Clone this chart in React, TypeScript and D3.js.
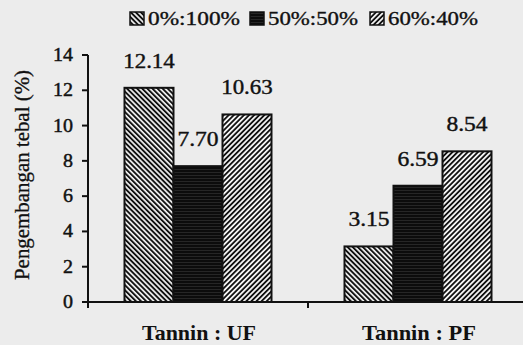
import React from "react";
import * as d3 from "d3";

const categories = ["Tannin : UF", "Tannin : PF"];
const seriesNames = ["0%:100%", "50%:50%", "60%:40%"];
const series0 = [12.14, 3.15];
const series1 = [7.7, 6.59];
const series2 = [10.63, 8.54];
const valueLabels = [["12.14", "3.15"], ["7.70", "6.59"], ["10.63", "8.54"]];
const yTicks = [0, 2, 4, 6, 8, 10, 12, 14];

const W = 523;
const H = 345;
const FONT = "Liberation Serif";
const INK = "#111";

export default function App() {
  const seriesValues = [series0, series1, series2];
  const y = d3.scaleLinear().domain([0, 14]).range([302, 55]);
  const x0 = d3.scaleBand<string>().domain(categories).range([88, 528]).padding(0);
  const x1 = d3
    .scaleBand<string>()
    .domain(seriesNames)
    .range([0, x0.bandwidth()])
    .paddingInner(0)
    .paddingOuter(0.745);
  const fills = ["url(#pBack)", "url(#pDark)", "url(#pFwd)"];
  const legendX = [130, 250, 370];
  const legendTextLen = [92, 90, 90];
  const baseY = y(0);
  const tStyle = { fontFamily: FONT };

  return (
    <svg
      width={W}
      height={H}
      style={{ position: "absolute", left: 0, top: 0, background: "#ececec", fontFamily: FONT }}
    >
      <defs>
        <pattern id="pBack" patternUnits="userSpaceOnUse" width={3.6} height={3.6} patternTransform="rotate(-45)">
          <rect width={3.6} height={3.6} fill="#f2f2f2" />
          <rect width={1.9} height={3.6} fill={INK} />
        </pattern>
        <pattern id="pFwd" patternUnits="userSpaceOnUse" width={3.6} height={3.6} patternTransform="rotate(45)">
          <rect width={3.6} height={3.6} fill="#f2f2f2" />
          <rect width={1.8} height={3.6} fill={INK} />
        </pattern>
        <pattern id="pDark" patternUnits="userSpaceOnUse" width={6} height={3}>
          <rect width={6} height={3} fill="#0c0c0c" />
          <rect y={1} width={6} height={0.8} fill="#2c2c2c" />
        </pattern>
      </defs>
      <rect width={W} height={H} fill="#ececec" />

      {/* Legend */}
      {seriesNames.map((s, i) => (
        <g key={s}>
          <rect x={legendX[i]} y={12} width={14} height={13} fill={fills[i]} stroke={INK} strokeWidth={1.5} />
          <text
            x={legendX[i] + 18}
            y={25}
            fontSize={19}
            fill={INK}
            stroke={INK}
            strokeWidth={0.35}
            style={tStyle}
            textLength={legendTextLen[i]}
            lengthAdjust="spacingAndGlyphs"
          >
            {s}
          </text>
        </g>
      ))}

      {/* Bars */}
      {categories.map((c, ci) => (
        <g key={c} transform={`translate(${x0(c)},0)`}>
          {seriesNames.map((s, si) => {
            const v = seriesValues[si][ci];
            const bx = x1(s)!;
            const bw = x1.bandwidth();
            return (
              <g key={s}>
                <rect
                  x={bx}
                  y={y(v)}
                  width={bw}
                  height={baseY - y(v)}
                  fill={fills[si]}
                  stroke={INK}
                  strokeWidth={2}
                />
                <text
                  x={bx + bw / 2}
                  y={y(v) - 20}
                  textAnchor="middle"
                  fontSize={20}
                  fill={INK}
                  stroke={INK}
                  strokeWidth={0.4}
                  style={tStyle}
                  textLength={valueLabels[si][ci].length * 10.3}
                  lengthAdjust="spacingAndGlyphs"
                >
                  {valueLabels[si][ci]}
                </text>
              </g>
            );
          })}
        </g>
      ))}

      {/* Y axis */}
      <line x1={88} x2={88} y1={y(14)} y2={baseY + 6} stroke={INK} strokeWidth={2} />
      {yTicks.map((t) => (
        <g key={t}>
          <line x1={82} x2={88} y1={y(t)} y2={y(t)} stroke={INK} strokeWidth={2} />
          <text
            x={73}
            y={y(t) + 6}
            textAnchor="end"
            fontSize={19}
            fill={INK}
            stroke={INK}
            strokeWidth={0.45}
            style={tStyle}
            textLength={String(t).length * 10}
            lengthAdjust="spacingAndGlyphs"
          >
            {t}
          </text>
        </g>
      ))}

      {/* X axis */}
      <line x1={88} x2={528} y1={baseY} y2={baseY} stroke={INK} strokeWidth={2} />
      {categories.map((c) => (
        <line key={c} x1={x0(c)! + x0.bandwidth()} x2={x0(c)! + x0.bandwidth()} y1={baseY} y2={baseY + 6} stroke={INK} strokeWidth={2} />
      ))}
      {categories.map((c) => (
        <text
          key={c}
          x={x0(c)! + x0.bandwidth() / 2 + 1}
          y={340}
          textAnchor="middle"
          fontSize={21}
          fontWeight="bold"
          fill={INK}
          style={tStyle}
          textLength={114}
          lengthAdjust="spacingAndGlyphs"
        >
          {c}
        </text>
      ))}

      {/* Y title */}
      <text
        transform={`translate(29,175) rotate(-90)`}
        textAnchor="middle"
        fontSize={20}
        fill={INK}
        stroke={INK}
        strokeWidth={0.3}
        style={tStyle}
        textLength={210}
        lengthAdjust="spacingAndGlyphs"
      >
        Pengembangan tebal (%)
      </text>
    </svg>
  );
}
